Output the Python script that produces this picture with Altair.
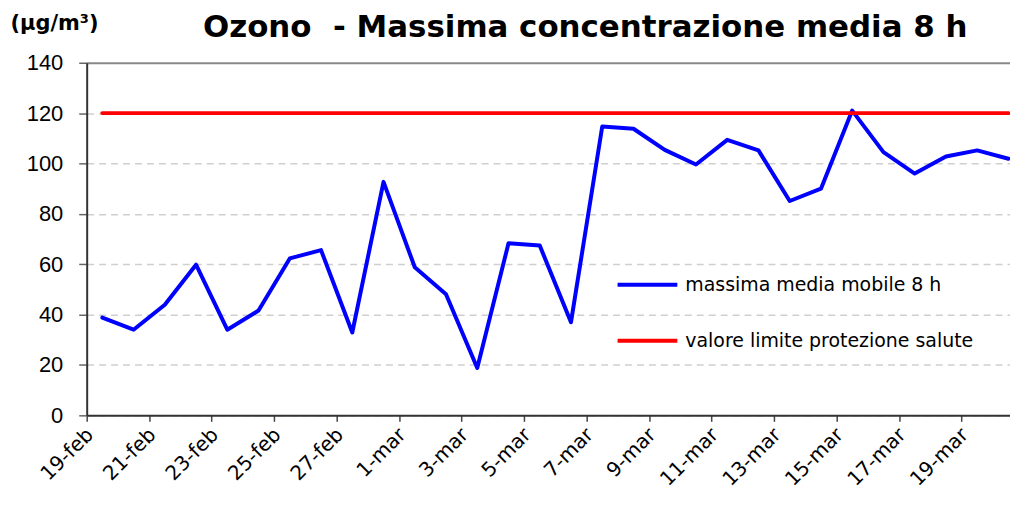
import json
import altair as alt
import pandas as pd

dates = ["19-feb", "20-feb", "21-feb", "22-feb", "23-feb", "24-feb", "25-feb", "26-feb",
         "27-feb", "28-feb", "1-mar", "2-mar", "3-mar", "4-mar", "5-mar", "6-mar",
         "7-mar", "8-mar", "9-mar", "10-mar", "11-mar", "12-mar", "13-mar", "14-mar",
         "15-mar", "16-mar", "17-mar", "18-mar", "19-mar", "20-mar"]
ozone = [38.8, 34.0, 43.9, 59.8, 34.0, 41.6, 62.3, 65.6, 32.9, 92.7,
         58.8, 48.1, 18.8, 68.3, 67.4, 37.0, 114.7, 113.8, 105.4, 99.6,
         109.4, 105.2, 85.1, 90.0, 121.0, 104.5, 96.0, 102.8, 105.2, 101.9]
limit = [120] * len(dates)
series_names = ["massima media mobile 8 h", "valore limite protezione salute"]
series_colors = ["#0000FF", "#FF0000"]
y_ticks = [0, 20, 40, 60, 80, 100, 120, 140]
x_tick_positions = [i - 0.5 for i in range(0, len(dates), 2)]

rows = []
for i, d in enumerate(dates):
    rows.append({"idx": i, "date": d, "value": ozone[i], "serie": series_names[0]})
for i, d in enumerate(dates):
    rows.append({"idx": i, "date": d, "value": limit[i], "serie": series_names[1]})
df = pd.DataFrame(rows)

label_expr = json.dumps(dates) + "[round(datum.value + 0.5)]"

chart = alt.Chart(df).mark_line(strokeWidth=4, strokeCap="round", strokeJoin="round").encode(
    x=alt.X("idx:Q",
            scale=alt.Scale(domain=[-0.5, 29.05], nice=False, zero=False),
            axis=alt.Axis(values=x_tick_positions, labelExpr=label_expr, title=None,
                          grid=False, tickSize=6, tickColor="#444", tickWidth=1.5,
                          domainColor="#333", domainWidth=2,
                          labelAngle=-45, labelAlign="right", labelBaseline="middle",
                          labelPadding=10, labelOffset=3,
                          labelFont="DejaVu Sans", labelFontSize=20, labelColor="#000",
                          labelOverlap=False, labelFlush=False)),
    y=alt.Y("value:Q",
            scale=alt.Scale(domain=[0, 140], nice=False),
            axis=alt.Axis(values=y_ticks, title="(µg/m³)", titleAngle=0,
                          titleX=-77, titleY=-39, titleAlign="left", titleBaseline="middle",
                          titleFont="DejaVu Sans", titleFontSize=21, titleFontWeight="bold",
                          titleColor="#000",
                          grid=True,
                          gridColor={"condition": {"test": "datum.value === 140", "value": "#888888"}, "value": "#cfcfcf"},
                          gridDash={"condition": {"test": "datum.value === 140", "value": []}, "value": [7, 5]},
                          gridWidth={"condition": {"test": "datum.value === 140", "value": 2}, "value": 1.5},
                          tickSize=8, tickColor="#666", tickWidth=1.5,
                          domainColor="#333", domainWidth=2,
                          labelPadding=16, labelFont="Liberation Sans", labelFontSize=22,
                          labelColor="#000")),
    color=alt.Color("serie:N", sort=series_names,
                    scale=alt.Scale(domain=series_names, range=series_colors),
                    legend=alt.Legend(title=None, orient="none", legendX=531, legendY=191,
                                      symbolType="stroke", symbolSize=3600, symbolStrokeWidth=4,
                                      rowPadding=14, labelOffset=6, padding=0,
                                      labelFont="DejaVu Sans", labelFontSize=19,
                                      labelColor="#000", labelLimit=500)),
).properties(
    width=927,
    height=354,
    autosize=alt.AutoSizeParams(type="none"),
    padding={"left": 79, "top": 54, "right": 0, "bottom": 76},
    title=alt.Title("Ozono\u00a0 - Massima concentrazione media 8 h",
                    font="DejaVu Sans", fontSize=31, fontWeight="bold", color="#000",
                    anchor="middle", dx=37, offset=-55, baseline="alphabetic"),
).configure_view(stroke=None)

chart.save("out.html", embed_options={"renderer": "svg", "actions": False})
